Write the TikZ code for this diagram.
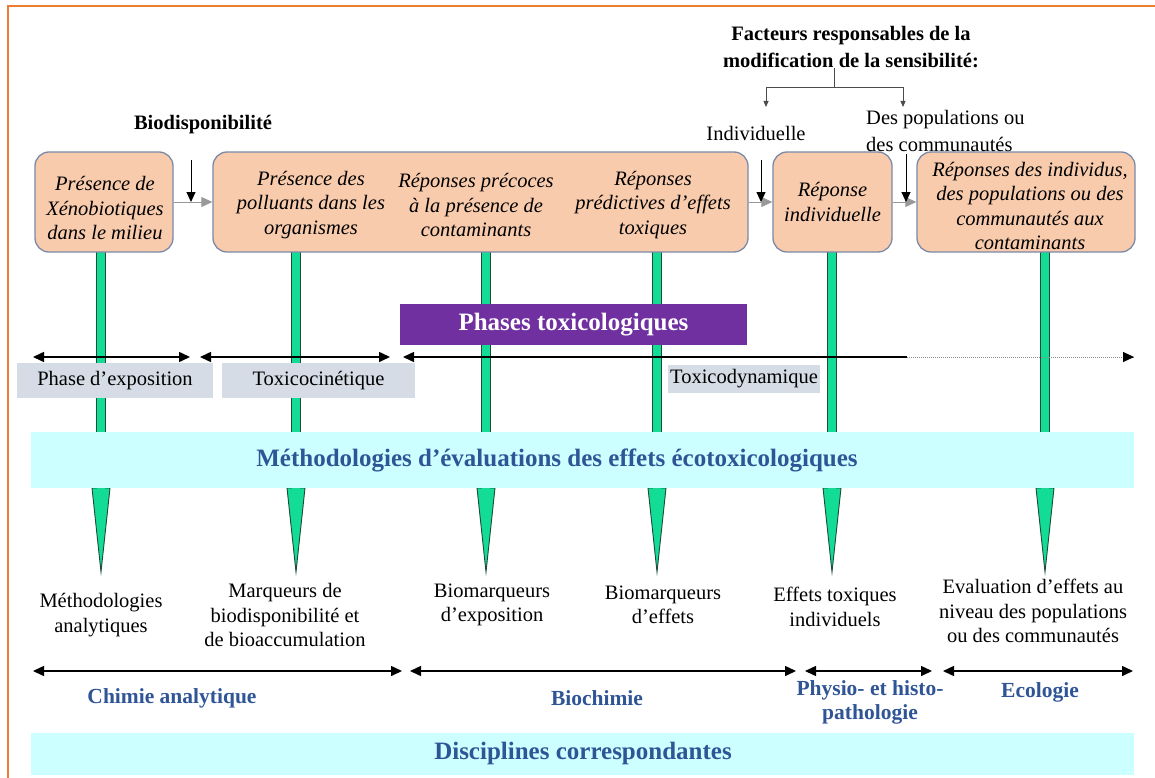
\documentclass[tikz,border=0pt]{standalone}
\usepackage{fontspec}
\setmainfont{Liberation Serif}
\usetikzlibrary{arrows.meta}

\definecolor{peach}{HTML}{F8CBAD}
\definecolor{boxline}{HTML}{7A8AA8}
\definecolor{barfill}{HTML}{12DC95}
\definecolor{barline}{HTML}{1E4A38}
\definecolor{tagfill}{HTML}{D6DCE5}
\definecolor{bandfill}{HTML}{CCFFFF}
\definecolor{phase}{HTML}{7030A0}
\definecolor{blueink}{HTML}{2F5597}
\definecolor{frameline}{HTML}{ED7D31}

\begin{document}
\begin{tikzpicture}[
  x = 1pt, y = -1pt,
  every node/.style={inner sep=0pt, align=center},
  stage/.style={draw=boxline, fill=peach, line width=1.3pt, rounded corners=14pt},
  stagetext/.style={font=\fontsize{20.5}{24.5}\selectfont\itshape},
  note/.style={font=\fontsize{20.5}{24.5}\selectfont},
  tag/.style={fill=tagfill, font=\fontsize{20.5}{24.5}\selectfont},
  band/.style={fill=bandfill, minimum width=1103pt},
  bandtitle/.style={font=\fontsize{25}{30}\selectfont\bfseries, text=blueink},
  field/.style={font=\fontsize{21.5}{26}\selectfont\bfseries, text=blueink},
  span/.style={{Triangle[length=11pt,width=10pt]}-{Triangle[length=11pt,width=10pt]}, line width=1.5pt},
  feed/.style={-{Triangle[length=10pt,width=9pt]}, line width=1pt},
  link/.style={-{Triangle[length=11pt,width=10pt]}, draw=black!40, line width=1pt},
  fork/.style={-{Triangle[length=6pt,width=5pt]}, draw=black!70, line width=0.8pt},
  greenbar/.style={fill=barfill, draw=barline, line width=0.9pt}
]
\useasboundingbox (0,0) rectangle (1155,778);
\fill[white] (0,0) rectangle (1155,778);

%frame
\draw[frameline, line width=2pt] (8,778) -- (8,6) -- (1155,6);

%green arrows
\foreach \gx in {101,296,486,657,832,1045}
  \draw[greenbar] (\gx-4.5,245) -- (\gx-4.5,488) -- (\gx-9,488) -- (\gx,572)
    -- (\gx+9,488) -- (\gx+4.5,488) -- (\gx+4.5,245) -- cycle;

%stages
\node[stage, minimum width=138pt, minimum height=100pt] (xeno) at (104,202) {};
\node[stage, minimum width=535pt, minimum height=100pt] (chain) at (480.5,202) {};
\node[stage, minimum width=119pt, minimum height=100pt] (indiv) at (832.5,202) {};
\node[stage, minimum width=218pt, minimum height=100pt] (popul) at (1026,202) {};

\node[stagetext] (xenotext) at (105,208) {Présence de\\Xénobiotiques\\dans le milieu};
\node[stagetext] (pollu) at (311,205) {Présence des\\polluants dans les\\organismes};
\node[stagetext] (preco) at (476,205) {Réponses précoces\\à la présence de\\contaminants};
\node[stagetext] (predi) at (653,205) {Réponses\\prédictives d’effets\\toxiques};
\node[stagetext] (indivtext) at (indiv) {Réponse\\individuelle};
\node[stagetext] (popultext) at (1030,206) {Réponses des individus,\\des populations ou des\\communautés aux\\contaminants};

%links between stages
\draw[link] (xeno) -- (chain);
\draw[link] (chain) -- (indiv);
\draw[link] (indiv) -- (popul);

%sensitivity factors
\node[font=\fontsize{20.5}{24.5}\selectfont\bfseries] (biodisp) at (203,125) {Biodisponibilité};
\node[font=\fontsize{20.5}{27}\selectfont\bfseries] (facteurs) at (851,47)
  {Facteurs responsables de la\\modification de la sensibilité:};
\node[note] (individuelle) at (756,133) {Individuelle};
\node[note, align=left, anchor=west, font=\fontsize{20.5}{27}\selectfont] (communs) at (866,131)
  {Des populations ou\\des communautés};

\coordinate (forkmid) at (834,87);
\coordinate (forkL) at (766,107);
\coordinate (forkR) at (903,107);
\draw[draw=black!70, line width=0.8pt] (facteurs.south -| forkmid) -- (forkmid);
\draw[fork] (forkmid) -| (forkL);
\draw[fork] (forkmid) -| (forkR);

\coordinate (bioin) at (191,160);
\coordinate (indin) at (761,160);
\coordinate (popin) at (906,154);
\draw[feed] (bioin) -- (bioin |- xeno.east);
\draw[feed] (indin) -- (indin |- indiv.west);
\draw[feed] (popin) -- (popin |- popul.west);

%phases
\node[fill=phase, text=white, font=\fontsize{25}{30}\selectfont\bfseries,
  minimum width=347pt, minimum height=41pt] (phases) at (573.5,324.5) {Phases toxicologiques};
\node[tag, minimum width=196pt, minimum height=35pt] (expo) at (115,380.5) {Phase d’exposition};
\node[tag, minimum width=193pt, minimum height=35pt] (cine) at (318.5,380.5) {Toxicocinétique};
\node[tag, minimum width=152pt, minimum height=28pt] (dyna) at (744,379) {Toxicodynamique};

\coordinate (expoL) at (33,357);  \coordinate (expoR) at (190,357);
\coordinate (cineL) at (200,357); \coordinate (cineR) at (390,357);
\coordinate (dynaL) at (403,357); \coordinate (dynaM) at (907,357);
\coordinate (dynaR) at (1134,357);
\draw[span] (expoL) -- (expoR);
\draw[span] (cineL) -- (cineR);
\draw[{Triangle[length=11pt,width=10pt]}-, line width=1.5pt] (dynaL) -- (dynaM);
\draw[densely dotted, black!45, line width=1pt] (dynaM) -- (dynaR);
\draw[-{Triangle[length=11pt,width=10pt]}, line width=1pt] ([xshift=-1pt]dynaR) -- (dynaR);

%methodologies
\node[band, minimum height=56pt] (methband) at (582,460) {};
\node[bandtitle] (meth) at (557,460) {Méthodologies d’évaluations des effets écotoxicologiques};

\node[note] (analy) at (101,615) {Méthodologies\\analytiques};
\node[note] (marq) at (285,615) {Marqueurs de\\biodisponibilité et\\de bioaccumulation};
\node[note] (bioexp) at (492,605) {Biomarqueurs\\d’exposition};
\node[note] (bioeff) at (663,605) {Biomarqueurs\\d’effets};
\node[note] (toxind) at (835,607) {Effets toxiques\\individuels};
\node[note] (evalu) at (1033,611) {Evaluation d’effets au\\niveau des populations\\ou des communautés};

%disciplines
\coordinate (chimL) at (33,671);  \coordinate (chimR) at (402,671);
\coordinate (biocL) at (410,671); \coordinate (biocR) at (796,671);
\coordinate (physL) at (805,671); \coordinate (physR) at (932,671);
\coordinate (ecolL) at (943,671); \coordinate (ecolR) at (1133,671);
\draw[span] (chimL) -- (chimR);
\draw[span] (biocL) -- (biocR);
\draw[span] (physL) -- (physR);
\draw[span] (ecolL) -- (ecolR);

\node[field] (chim) at (172,698) {Chimie analytique};
\node[field] (bioc) at (597,698) {Biochimie};
\node[field, font=\fontsize{21.5}{24}\selectfont\bfseries] (phys) at (870,702) {Physio- et histo-\\pathologie};
\node[field] (ecol) at (1040,692) {Ecologie};

\node[band, minimum height=42pt] (discband) at (582,754) {};
\node[bandtitle] (disc) at (583,753) {Disciplines correspondantes};

\end{tikzpicture}
\end{document}
